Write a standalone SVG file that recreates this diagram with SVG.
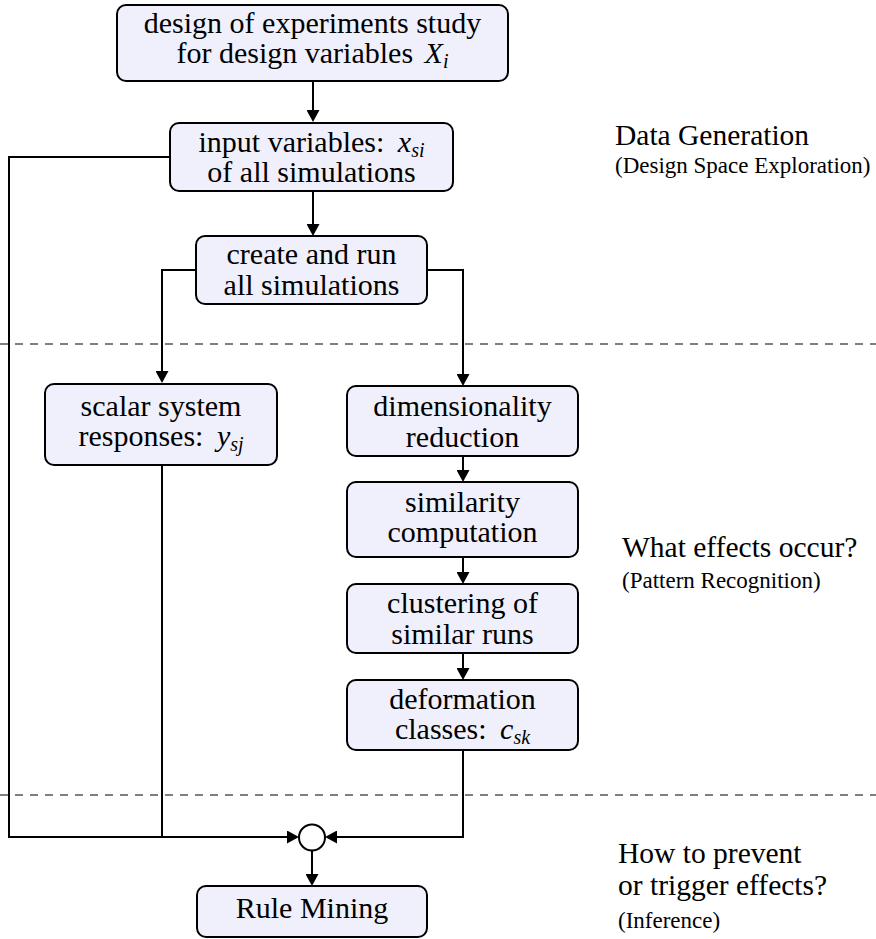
<svg xmlns="http://www.w3.org/2000/svg" width="876" height="939" viewBox="0 0 876 939">
  <style>
    .box { fill: #f0f0fc; stroke: #000; stroke-width: 2; }
    .t { font-family: "Liberation Serif", "Times New Roman", serif; font-size: 30px; fill: #000; text-anchor: middle; }
    .m { font-style: italic; }
    .sub { font-style: italic; font-size: 20px; }
    .lab { font-family: "Liberation Serif", "Times New Roman", serif; font-size: 29.5px; fill: #000; }
    .lab-s { font-family: "Liberation Serif", "Times New Roman", serif; font-size: 23px; fill: #000; }
    .wire { fill: none; stroke: #000; stroke-width: 2; }
    .arrow { fill: none; stroke: #000; stroke-width: 2; marker-end: url(#head); }
    .sep { fill: none; stroke: #555; stroke-width: 1.3; stroke-dasharray: 8 7; }
  </style>
  <defs>
    <marker id="head" viewBox="0 0 12 13" markerWidth="12" markerHeight="13" refX="6" refY="6.5" orient="auto" markerUnits="userSpaceOnUse">
      <path d="M0,0 L12,6.5 L0,13 z" fill="#000"/>
    </marker>
  </defs>

  <!-- phase separators -->
  <g id="separators">
    <path class="sep" d="M0,344 H876"/>
    <path class="sep" d="M0,795 H876"/>
  </g>

  <!-- connectors -->
  <g id="connectors">
    <path class="arrow" d="M313,81 V116"/>
    <path class="arrow" d="M313,191 V230"/>
    <path class="arrow" d="M196,270 H162 V377"/>
    <path class="arrow" d="M427,270 H463 V380"/>
    <path class="arrow" d="M463,456 V476"/>
    <path class="arrow" d="M463,557 V578"/>
    <path class="arrow" d="M463,653 V674"/>
    <path class="arrow" d="M170,157 H9 V837 H293"/>
    <path class="wire" d="M162,465 V837"/>
    <path class="arrow" d="M463,750 V837 H331"/>
    <path class="arrow" d="M312,851 V880"/>
  </g>

  <!-- nodes -->
  <g id="doe">
    <rect class="box" x="117" y="5" width="391" height="76" rx="9"/>
    <text class="t" x="312.5" y="33">design of experiments study</text>
    <text class="t" x="312.5" y="63">for design variables <tspan class="m" dx="4">X</tspan><tspan class="sub" dy="5">i</tspan></text>
  </g>

  <g id="inputs">
    <rect class="box" x="170" y="123" width="283" height="68" rx="9"/>
    <text class="t" x="311.5" y="152">input variables: <tspan class="m" dx="6">x</tspan><tspan class="sub" dy="5">si</tspan></text>
    <text class="t" x="311.5" y="182">of all simulations</text>
  </g>

  <g id="simulate">
    <rect class="box" x="196" y="236" width="231" height="68" rx="9"/>
    <text class="t" x="311.5" y="264">create and run</text>
    <text class="t" x="311.5" y="295">all simulations</text>
  </g>

  <g id="scalar">
    <rect class="box" x="45" y="384" width="232" height="81" rx="9"/>
    <text class="t" x="161" y="416">scalar system</text>
    <text class="t" x="161" y="446">responses: <tspan class="m" dx="6">y</tspan><tspan class="sub" dy="5">sj</tspan></text>
  </g>

  <g id="reduction">
    <rect class="box" x="347" y="386" width="231" height="70" rx="9"/>
    <text class="t" x="462.5" y="416">dimensionality</text>
    <text class="t" x="462.5" y="447">reduction</text>
  </g>

  <g id="similarity">
    <rect class="box" x="347" y="482" width="231" height="75" rx="9"/>
    <text class="t" x="462.5" y="512">similarity</text>
    <text class="t" x="462.5" y="542">computation</text>
  </g>

  <g id="clustering">
    <rect class="box" x="347" y="584" width="231" height="69" rx="9"/>
    <text class="t" x="462.5" y="613">clustering of</text>
    <text class="t" x="462.5" y="644">similar runs</text>
  </g>

  <g id="classes">
    <rect class="box" x="347" y="680" width="231" height="70" rx="9"/>
    <text class="t" x="462.5" y="709">deformation</text>
    <text class="t" x="462.5" y="739">classes: <tspan class="m" dx="6">c</tspan><tspan class="sub" dy="5">sk</tspan></text>
  </g>

  <g id="join">
    <circle cx="312" cy="837.5" r="13" fill="#fff" stroke="#000" stroke-width="2"/>
  </g>

  <g id="rules">
    <rect class="box" x="197" y="886" width="230" height="51" rx="9"/>
    <text class="t" x="312" y="918">Rule Mining</text>
  </g>

  <!-- phase labels -->
  <g id="phase-labels">
    <text class="lab" x="615" y="145">Data Generation</text>
    <text class="lab-s" x="615" y="173">(Design Space Exploration)</text>
    <text class="lab" x="622" y="557">What effects occur?</text>
    <text class="lab-s" x="622" y="588">(Pattern Recognition)</text>
    <text class="lab" x="618" y="863">How to prevent</text>
    <text class="lab" x="618" y="895">or trigger effects?</text>
    <text class="lab-s" x="618" y="928">(Inference)</text>
  </g>
</svg>
